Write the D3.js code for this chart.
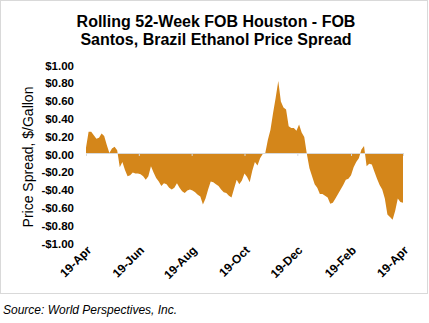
<!DOCTYPE html>
<html>
<head>
<meta charset="utf-8">
<script src="https://cdn.jsdelivr.net/npm/d3@7"></script>
<style>
  body { margin: 0; background: #fff; }
  svg { font-family: "Liberation Sans", Arial, sans-serif; }
</style>
</head>
<body>
<div id="app"></div>
<script>
// spread readings, one every 3 days starting 19-Apr-2019
const startDate = "2019-04-19";
const stepDays = 3;
const spread = [
  0.06, 0.24, 0.24, 0.20, 0.16, 0.17, 0.22, 0.19, 0.09, 0.00,
  0.05, 0.07, 0.03, -0.16, -0.10, -0.19, -0.26, -0.25, -0.22, -0.23,
  -0.23, -0.24, -0.26, -0.30, -0.26, -0.15, -0.22, -0.28, -0.32, -0.37,
  -0.34, -0.35, -0.39, -0.41, -0.39, -0.34, -0.39, -0.43, -0.45, -0.42,
  -0.41, -0.42, -0.44, -0.47, -0.49, -0.58, -0.51, -0.41, -0.32, -0.33,
  -0.35, -0.37, -0.41, -0.44, -0.45, -0.48, -0.50, -0.40, -0.30, -0.35,
  -0.31, -0.23, -0.27, -0.33, -0.20, -0.10, -0.14, -0.06, -0.01, 0.00,
  0.15, 0.26, 0.45, 0.62, 0.81, 0.58, 0.51, 0.49, 0.30, 0.28,
  0.28, 0.25, 0.32, 0.23, 0.18, -0.01, -0.17, -0.26, -0.35, -0.39,
  -0.46, -0.46, -0.48, -0.50, -0.57, -0.56, -0.51, -0.46, -0.41, -0.36,
  -0.30, -0.29, -0.25, -0.16, -0.10, -0.06, 0.04, 0.08, -0.15, -0.12,
  -0.13, -0.21, -0.29, -0.36, -0.41, -0.51, -0.69, -0.72, -0.75, -0.65,
  -0.51, -0.55, -0.56
];
const yTicks = [1, 0.8, 0.6, 0.4, 0.2, 0, -0.2, -0.4, -0.6, -0.8, -1];
const xTickDates = ["2019-04-19", "2019-06-19", "2019-08-19", "2019-10-19",
                    "2019-12-19", "2020-02-19", "2020-04-19"];
const titleLines = ["Rolling 52-Week FOB Houston - FOB", "Santos, Brazil Ethanol Price Spread"];
const yTitle = "Price Spread, $/Gallon";
const source = "Source: World Perspectives, Inc.";

const W = 429, H = 323;
const parse = d3.utcParse("%Y-%m-%d");
const start = parse(startDate);
const data = spread.map((v, i) => ({ date: d3.utcDay.offset(start, i * stepDays), value: v }));

const svg = d3.select("#app").append("svg").attr("width", W).attr("height", H);

// chart frame
svg.append("rect")
  .attr("x", 0.5).attr("y", 0.5)
  .attr("width", W - 2).attr("height", 293)
  .attr("fill", "#fff").attr("stroke", "#d9d9d9");

const x = d3.scaleUtc()
  .domain([parse(xTickDates[0]), parse(xTickDates[xTickDates.length - 1])])
  .range([86, 403]);
const y = d3.scaleLinear().domain([-1, 1]).range([242, 64]);

const area = d3.area()
  .x(d => x(d.date))
  .y0(y(0))
  .y1(d => y(d.value));

svg.append("path")
  .datum(data)
  .attr("fill", "#d4861a")
  .attr("d", area);

// zero axis line with ticks
const xAxis = d3.axisBottom(x)
  .tickValues(xTickDates.map(parse))
  .tickSize(3)
  .tickFormat("");
const gx = svg.append("g").attr("transform", `translate(0,${y(0)})`).call(xAxis);
gx.select(".domain").attr("stroke", "#d9d9d9");
gx.selectAll(".tick line").attr("stroke", "#d9d9d9");

// x labels along the bottom, rotated
const fmt = d3.utcFormat("%d-%b");
svg.append("g")
  .selectAll("text")
  .data(xTickDates.map(parse))
  .join("text")
  .attr("transform", d => `translate(${x(d) + 6},${251}) rotate(-45)`)
  .attr("text-anchor", "end")
  .attr("font-size", 12)
  .attr("font-weight", "bold")
  .attr("fill", "#000")
  .text(d => fmt(d));

// y labels
const yfmt = v => (v < 0 ? "-$" : "$") + Math.abs(v).toFixed(2);
svg.append("g")
  .selectAll("text")
  .data(yTicks)
  .join("text")
  .attr("x", 74)
  .attr("y", d => y(d) + 1.5)
  .attr("dy", "0.35em")
  .attr("text-anchor", "end")
  .attr("font-size", 11.5)
  .attr("font-weight", "bold")
  .text(yfmt);

svg.append("text")
  .attr("transform", `translate(33,157) rotate(-90)`)
  .attr("text-anchor", "middle")
  .attr("font-size", 14)
  .text(yTitle);

// title
svg.append("g")
  .selectAll("text")
  .data(titleLines)
  .join("text")
  .attr("x", 216)
  .attr("y", (d, i) => 27 + i * 18)
  .attr("text-anchor", "middle")
  .attr("font-size", 16)
  .attr("font-weight", "bold")
  .text(d => d);

svg.append("text")
  .attr("x", 3)
  .attr("y", 314)
  .attr("font-size", 12)
  .attr("font-style", "italic")
  .text(source);
</script>
</body>
</html>
